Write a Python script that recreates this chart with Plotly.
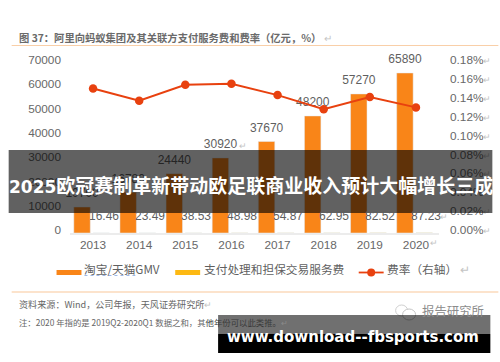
import plotly.graph_objects as go

years = [2013, 2014, 2015, 2016, 2017, 2018, 2019, 2020]
gmv = [10700, 16780, 24440, 30920, 37670, 48200, 57270, 65890]
fee = [16.46, 23.49, 38.53, 48.98, 54.87, 62.95, 82.52, 87.23]
rate = [0.153, 0.140, 0.157, 0.158, 0.146, 0.131, 0.144, 0.133]
left_ticks = [0, 10000, 20000, 30000, 40000, 50000, 60000, 70000]
right_ticks = [0, 0.02, 0.04, 0.06, 0.08, 0.10, 0.12, 0.14, 0.16, 0.18]

L, R, T, B = 69.5, 439.5, 63, 233
W, H = 500, 362
SANS = "Liberation Sans, Arial, sans-serif"
CJK = "Noto Sans CJK SC, sans-serif"
ORANGE = "#F98518"
GOLD = "#FDB913"
RED = "#E8410F"
GREY = "#5f5f5f"
MARK = "#c4c4c4"
RET = "↵"


def px(x):
    return (x - L) / (R - L)


def py(y):
    return (B - y) / (B - T)


def ret(s):
    return f'{s}<span style="color:{MARK};font-size:9px">{RET}</span>'


fig = go.Figure()
slot = R - L
year_px = slot / 8
fig.add_bar(x=years, y=gmv, width=16.5 / year_px, offset=-19.3 / year_px,
            marker_color=ORANGE, name="淘宝/天猫GMV", showlegend=False)
fig.add_bar(x=years, y=fee, width=16.5 / year_px, offset=0,
            marker_color=GOLD, name="支付处理和担保交易服务费", showlegend=False)
fig.add_scatter(x=[v - 11 / year_px for v in years], y=gmv, mode="markers+text",
                text=[str(v) for v in gmv], textposition="top center",
                marker=dict(size=9, opacity=0), cliponaxis=False,
                textfont=dict(family=SANS, size=12, color=GREY),
                hoverinfo="skip", showlegend=False)
fig.add_scatter(x=years, y=rate, yaxis="y2", mode="lines+markers", name="费率（右轴）",
                line=dict(color=RED, width=2), marker=dict(color=RED, size=8.5),
                cliponaxis=False, showlegend=False)

shapes = []
ann = []


def text(x, y, s, size, color=GREY, family=CJK, anchor="left"):
    ann.append(dict(xref="paper", yref="paper", x=px(x), y=py(y), text=s, showarrow=False,
                    xanchor=anchor, yanchor="middle", align=anchor, borderpad=0, borderwidth=0,
                    font=dict(family=family, size=size, color=color)))


def rect(x0, y0, x1, y1, color):
    shapes.append(dict(type="rect", xref="paper", yref="paper", x0=px(x0), x1=px(x1),
                       y0=py(y0), y1=py(y1), fillcolor=color, line_width=0, layer="above"))


def line(x0, y0, x1, y1, color, width, dash="solid"):
    shapes.append(dict(type="line", xref="paper", yref="paper", x0=px(x0), x1=px(x1),
                       y0=py(y0), y1=py(y1), line=dict(color=color, width=width, dash=dash),
                       layer="above"))


# small-value labels, tied to the fee series
for yr, v in zip(years, fee):
    ann.append(dict(x=yr, y=v, xref="x", yref="y", text=f"{v:.2f}", showarrow=False,
                    xshift=10.5, yshift=17, yanchor="middle", xanchor="center",
                    font=dict(family=SANS, size=12, color=GREY)))

# header rules and title
line(11, 45.5, 499, 45.5, "#f9cfa8", 1.2)
line(11, 292, 499, 292, "#f9c89a", 1.2)
text(18, 37.5, "<b>图 37：阿里向蚂蚁集团及其关联方支付服务费和费率（亿元，%）</b>"
     f'<span style="color:{MARK}"> {RET}</span>', 10.3, "#6a6a6a")

# legend
rect(56, 270, 81, 275, ORANGE)
text(84, 268.5, "淘宝/天猫GMV", 11.7)
line(84, 275.5, 135, 275.5, "#9db8e8", 1, "dot")
rect(175, 270, 200, 275, GOLD)
text(204, 268.5, "支付处理和担保交易服务费", 11.7)
line(359, 272.5, 384, 272.5, RED, 1.8)
shapes.append(dict(type="circle", xref="paper", yref="paper", x0=px(367.5), x1=px(375.5),
                   y0=py(276.5), y1=py(268.5), fillcolor=RED, line_width=0, layer="above"))
text(387.5, 268.5, "费率（右轴）" + f'<span style="color:{MARK}"> {RET}</span>', 11.7)

# return marks
text(430, 242.5, RET, 9, MARK)
text(239, 145, RET, 9, MARK)
text(441, 216, RET, 9, MARK)

# footnotes
text(18, 304, "资料来源：Wind，公司年报，天风证券研究所" + f'<span style="color:{MARK}">{RET}</span>',
     9.1, "#666666")
text(18, 322.3, '注：2020 年指的是 2019Q2-2020Q1 数据之和，<span style="color:#6a6a6a">其</span>'
     '<span style="color:#3a3a3a">他年份可以此类推。</span>'
     f'<span style="color:#8a8a8a">{RET}</span>', 8.4, "#666666")

# watermark mark
text(422, 311, "报告研究所", 12.4, "#8c8c8c")
shapes.append(dict(type="circle", xref="paper", yref="paper", x0=px(396), x1=px(408),
                   y0=py(316), y1=py(305), fillcolor="rgba(0,0,0,0)",
                   line=dict(color="#d0d0d0", width=1), layer="above"))
shapes.append(dict(type="circle", xref="paper", yref="paper", x0=px(403), x1=px(416),
                   y0=py(320), y1=py(309), fillcolor="white",
                   line=dict(color="#c4c4c4", width=1), layer="above"))

# overlay banners
rect(8, 150, 493, 213, "rgba(0,0,0,0.62)")
rect(218, 315, 491, 334, "rgba(0,0,0,0.56)")
rect(218, 334, 491, 353, "#000000")
text(250.5, 185.5, '<b><span style="font-size:17px">2025</span>欧冠赛制革新带动欧足联商业收入预计大幅增长三成</b>',
     19, "white", "DejaVu Sans, Noto Sans CJK SC, sans-serif", "center")
text(353, 337, "<b>www.download--fbsports.com</b>", 15, "white",
     "DejaVu Sans, sans-serif", "center")

fig.update_layout(
    width=W, height=H, autosize=False, paper_bgcolor="white", plot_bgcolor="white",
    margin=dict(l=L, r=W - R, t=T, b=H - B, pad=0, autoexpand=False),
    barmode="overlay", showlegend=False, shapes=shapes, annotations=ann,
    xaxis=dict(range=[2012.5, 2020.5], tickmode="array", tickvals=years,
               ticktext=[str(v) for v in years], showgrid=False, zeroline=False,
               showline=True, linecolor="#ececec", linewidth=2, ticks="",
               tickfont=dict(family=SANS, size=11.8, color="#686868"), ticklabelstandoff=0),
    yaxis=dict(range=[0, 70000], tickmode="array", tickvals=left_ticks,
               ticktext=[str(v) for v in left_ticks], showgrid=False, zeroline=False,
               showline=False, ticks="", ticklabelstandoff=8, ticklabelshift=-3,
               tickfont=dict(family=SANS, size=11.8, color="#686868")),
    yaxis2=dict(range=[0, 0.18], overlaying="y", side="right", tickmode="array",
                tickvals=right_ticks, ticktext=[ret(f"{v:.2f}%") for v in right_ticks],
                showgrid=False, zeroline=False, showline=False, ticks="",
                ticklabelstandoff=10, ticklabelshift=-3,
                tickfont=dict(family=SANS, size=11.8, color="#686868")),
)
fig.write_html("out.html", config=dict(displayModeBar=False),
               post_script="document.body.style.margin='0';document.documentElement.style.overflow='hidden';")
